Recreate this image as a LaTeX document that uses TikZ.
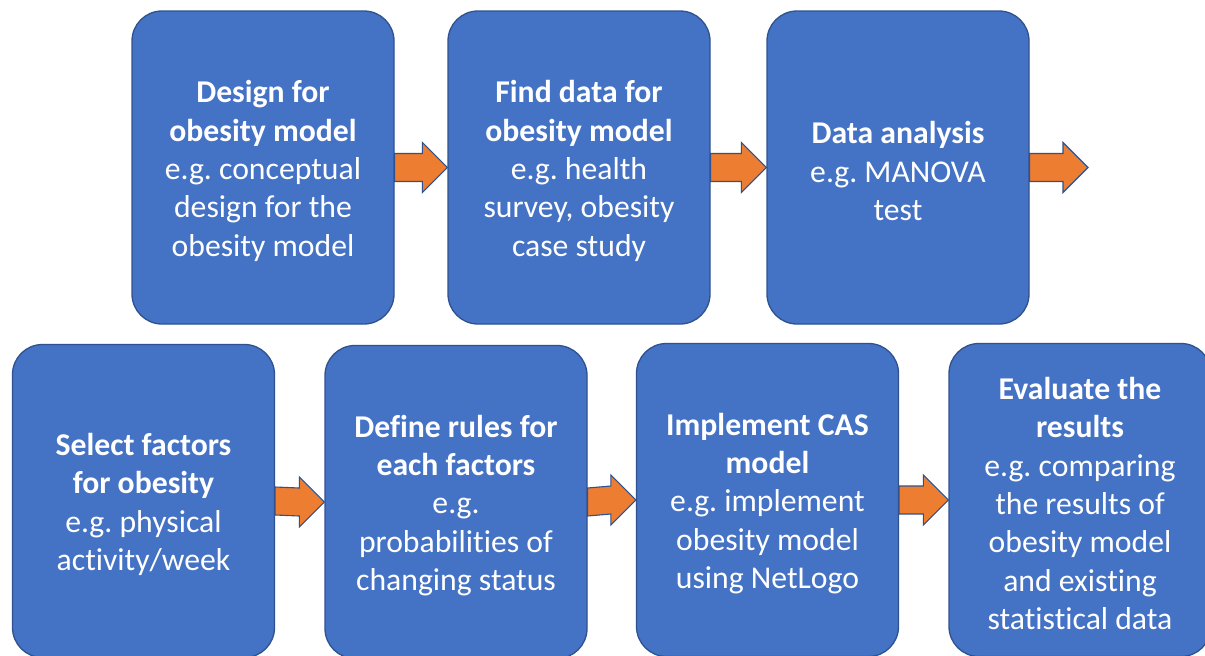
\documentclass[tikz,border=0pt]{standalone}
\usepackage{fontspec}
\setmainfont{Carlito}[Ligatures=NoCommon]
\usetikzlibrary{calc}
\definecolor{boxblue}{HTML}{4472C4}
\definecolor{edgeblue}{HTML}{2F528F}
\definecolor{arroworange}{HTML}{ED7D31}
\tikzset{
  stagebox/.style={draw=edgeblue, line width=1.3pt, fill=boxblue, rounded corners=30pt,
    minimum width=262pt, minimum height=313pt, inner sep=0pt},
  stagetext/.style={text=white, align=center, inner sep=0pt,
    font=\fontsize{31.7}{38.3}\selectfont\frenchspacing},
  flowarrow/.style={draw=edgeblue, line width=1.1pt, fill=arroworange, line join=miter}
}
% block arrow: #1 start point, #2 tip point
\newcommand\blockarrow[2]{%
  \draw[flowarrow] ($(#1)+(0,-14)$) -- ($(#2)+(-25,-14)$) -- ($(#2)+(-25,-25)$) -- (#2)
    -- ($(#2)+(-25,25)$) -- ($(#2)+(-25,14)$) -- ($(#1)+(0,14)$) -- cycle;}
\begin{document}
\begin{tikzpicture}[x=1pt, y=-1pt]
\useasboundingbox (0,0) rectangle (1205,656);
\clip (0,0) rectangle (1205,656);
\fill[white] (0,0) rectangle (1205,656);

% top row
\node[stagebox] (b1) at (263,167.5) {};
\node[stagebox] (b2) at (579,167.5) {};
\node[stagebox] (b3) at (898,167.5) {};
\coordinate (next) at (1088,167.5);
\node[stagetext] (t1) at ($(b1.center)+(0,3.5)$) {\textbf{Design for}\\\textbf{obesity model}\\e.g. conceptual\\design for the\\obesity model};
\node[stagetext] (t2) at ($(b2.center)+(0,3.5)$) {\textbf{Find data for}\\\textbf{obesity model}\\e.g. health\\survey, obesity\\case study};
\node[stagetext] (t3) at ($(b3.center)+(0,3.5)$) {\textbf{Data analysis}\\e.g. MANOVA\\test};

% bottom row
\node[stagebox] (b4) at (143.5,501) {};
\node[stagebox] (b5) at (456,502) {};
\node[stagebox] (b6) at (767.5,500) {};
\node[stagebox] (b7) at (1080,500) {};
\node[stagetext] (t4) at ($(b4.center)+(0,3.5)$) {\textbf{Select factors}\\\textbf{for obesity}\\e.g. physical\\activity/week};
\node[stagetext] (t5) at ($(b5.center)+(0,3.5)$) {\textbf{Define rules for}\\\textbf{each factors}\\e.g.\\probabilities of\\changing status};
\node[stagetext] (t6) at ($(b6.center)+(0,3.5)$) {\textbf{Implement CAS}\\\textbf{model}\\e.g. implement\\obesity model\\using NetLogo};
\node[stagetext] (t7) at ($(b7.center)+(0,3.5)$) {\textbf{Evaluate the}\\\textbf{results}\\e.g. comparing\\the results of\\obesity model\\and existing\\statistical data};

% arrows between stages
\blockarrow{b1.east}{b2.west}
\blockarrow{b2.east}{b3.west}
\blockarrow{b3.east}{next}
\blockarrow{b4.east}{b5.west}
\blockarrow{b5.east}{b6.west}
\blockarrow{b6.east}{b7.west}
\end{tikzpicture}
\end{document}
